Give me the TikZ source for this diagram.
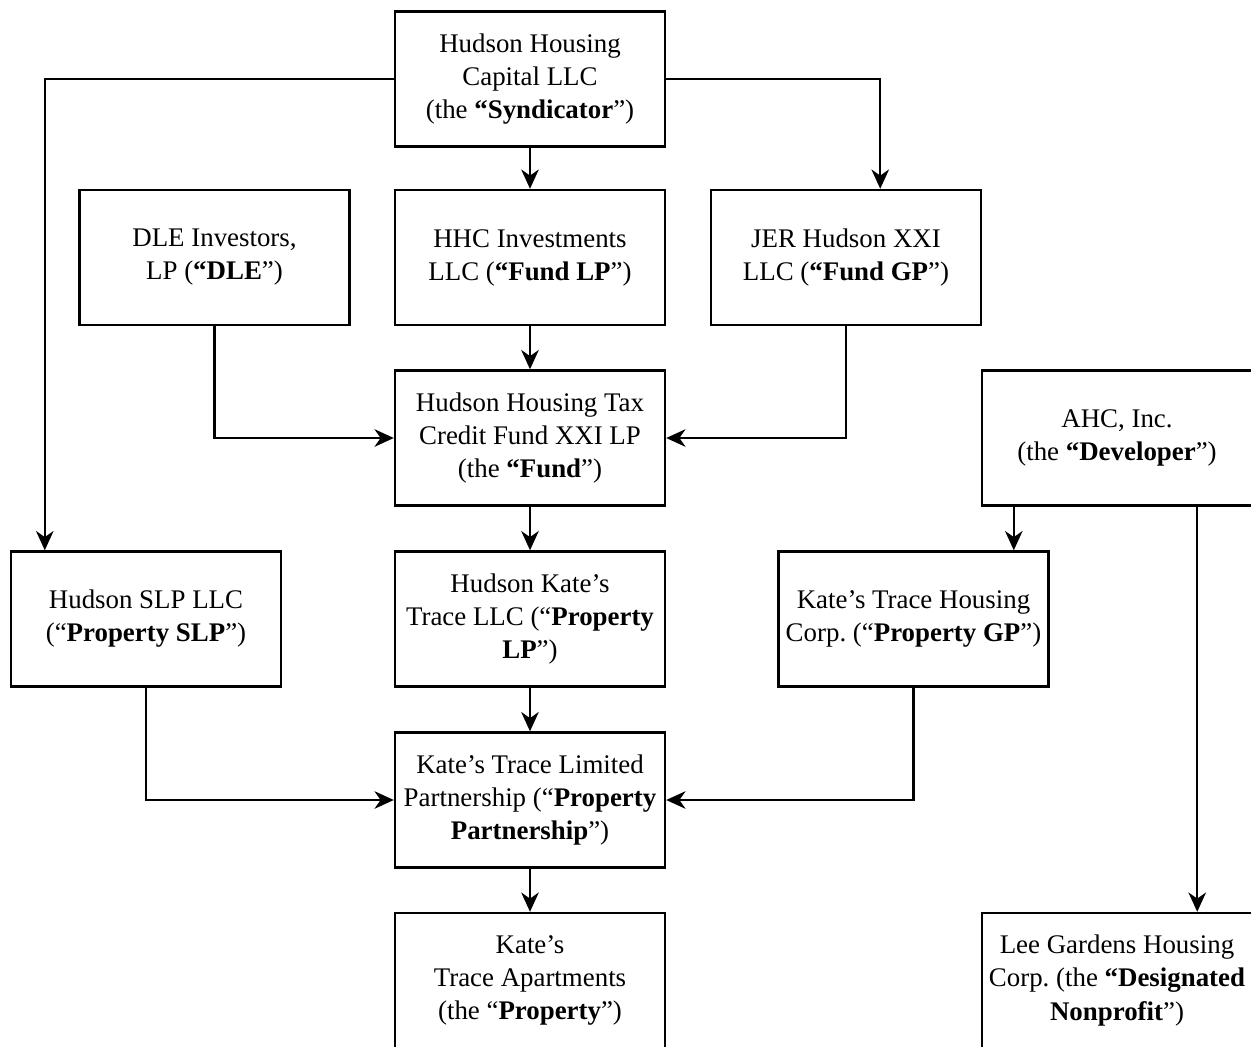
\documentclass[tikz,border=0pt]{standalone}
\usepackage{fontspec}
\setmainfont{Liberation Serif}
\usetikzlibrary{arrows.meta}
\frenchspacing
\begin{document}
\begin{tikzpicture}[x=0.02cm,y=-0.02cm,
    entity/.style={draw,line width=1.4pt,minimum width=5.4cm,minimum height=2.7cm,
      align=center,inner sep=2pt,font=\fontsize{15.3}{18.8}\selectfont},
    flow/.style={line width=1.2pt,-{Stealth[length=11pt,width=10pt,inset=3.5pt]}}]
                    % \helpgrid{3}{3}
                    \useasboundingbox (0,0) rectangle (1251,1046);
                    \clip (0,0) rectangle (1251,1046);
                    \node[entity] (synd) at (530,79) {Hudson Housing\\Capital LLC\\(the \textbf{“Syndicator}”)};
                    \node[entity] (dle) at (214.5,257.5) {DLE Investors,\\LP (\textbf{“DLE}”)};
                    \node[entity] (fundlp) at (530,257.5) {HHC Investments\\LLC (\textbf{“Fund LP}”)};
                    \node[entity] (fundgp) at (846,257.5) {JER Hudson XXI\\LLC (\textbf{“Fund GP}”)};
                    \node[entity] (fund) at (530,438) {Hudson Housing Tax\\Credit Fund XXI LP\\(the \textbf{“Fund}”)};
                    \node[entity] (ahc) at (1117,438) {AHC, Inc.\\(the \textbf{“Developer}”)};
                    \node[entity] (slp) at (146,619) {Hudson SLP LLC\\(“\textbf{Property SLP}”)};
                    \node[entity] (proplp) at (530,619) {Hudson Kate’s\\Trace LLC (“\textbf{Property}\\\textbf{LP}”)};
                    \node[entity] (propgp) at (913.5,619) {Kate’s Trace Housing\\Corp. (“\textbf{Property GP}”)};
                    \node[entity] (pship) at (530,800) {Kate’s Trace Limited\\Partnership (“\textbf{Property}\\\textbf{Partnership}”)};
                    \node[entity] (prop) at (530,980.5) {Kate’s\\Trace Apartments\\(the “\textbf{Property}”)};
                    \node[entity] (dnp) at (1117,980.5) {Lee Gardens Housing\\Corp. (the \textbf{“Designated}\\\textbf{Nonprofit}”)};
                    \coordinate (slpin) at ([xshift=0.7cm]slp.north west);
                    \coordinate (gpin) at ([xshift=-2.04cm]fundgp.north east);
                    \coordinate (ahcgp) at ([xshift=0.66cm]ahc.south west);
                    \coordinate (ahcnp) at ([xshift=-1.12cm]ahc.south east);
                    \draw[flow] (synd.west) -| (slpin);
                    \draw[flow] (synd.east) -| (gpin);
                    \draw[flow] (synd) -- (fundlp);
                    \draw[flow] (fundlp) -- (fund);
                    \draw[flow] (dle.south) |- (fund.west);
                    \draw[flow] (fundgp.south) |- (fund.east);
                    \draw[flow] (fund) -- (proplp);
                    \draw[flow] (proplp) -- (pship);
                    \draw[flow] (slp.south) |- (pship.west);
                    \draw[flow] (propgp.south) |- (pship.east);
                    \draw[flow] (pship) -- (prop);
                    \draw[flow] (ahcgp) -- (ahcgp |- propgp.north);
                    \draw[flow] (ahcnp) -- (ahcnp |- dnp.north);
                \end{tikzpicture}
\end{document}
